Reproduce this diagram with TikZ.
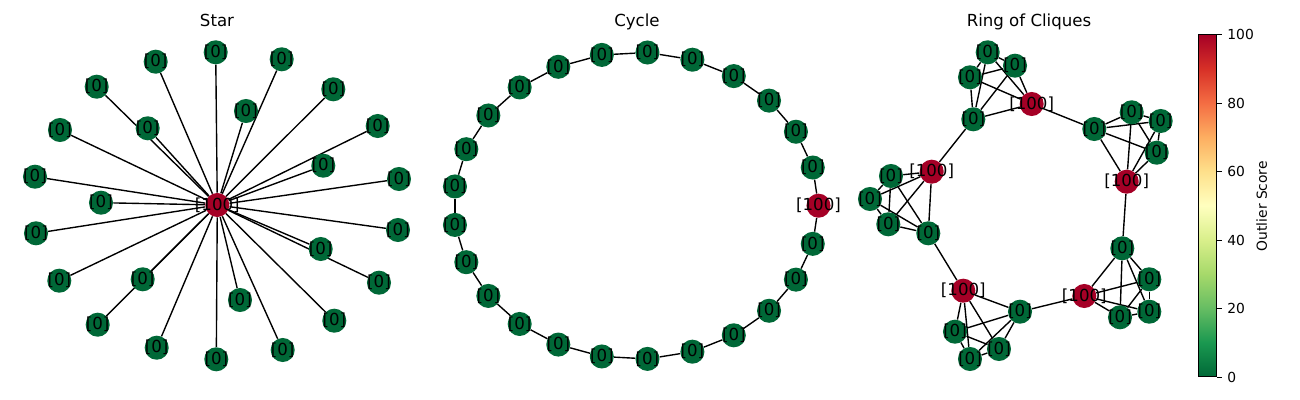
\documentclass[tikz,border=0pt]{standalone}
\usepackage{fontspec}
\setmainfont{DejaVu Sans}
\usetikzlibrary{positioning,backgrounds}
\usepackage{xcolor}

\definecolor{score0}{RGB}{0,104,55}
\definecolor{score100}{RGB}{165,0,38}
\pgfdeclareverticalshading{outlierbar}{100bp}{rgb(0bp)=(0,0.408,0.216); rgb(25bp)=(0,0.408,0.216); rgb(30bp)=(0.102,0.596,0.314); rgb(35bp)=(0.4,0.741,0.388); rgb(40bp)=(0.651,0.851,0.416); rgb(45bp)=(0.851,0.937,0.545); rgb(50bp)=(1,1,0.749); rgb(55bp)=(0.996,0.878,0.545); rgb(60bp)=(0.992,0.682,0.380); rgb(65bp)=(0.957,0.427,0.263); rgb(70bp)=(0.843,0.188,0.153); rgb(75bp)=(0.647,0,0.149); rgb(100bp)=(0.647,0,0.149)}

\begin{document}
\begin{tikzpicture}[
        x=0.72bp, y=-0.72bp,
        vert/.style={circle, fill=score#1, minimum size=17.32bp, inner sep=0pt,
            label={[lbl]center:{[#1]}}},
        lbl/.style={inner sep=0pt, text=black, font=\fontsize{12}{14}\selectfont},
        link/.style={draw=black, line width=1bp},
        title/.style={anchor=base, font=\fontsize{12}{14}\selectfont},
        tick/.style={font=\fontsize{10}{12}\selectfont}
    ]
        \useasboundingbox (0,0) rectangle (1300,400);

        % Panel 1: Star
        \node[title] (startitle) at (217,26.3) {Star};
        \node[vert=100] (s0) at (217.3,205) {};
        \foreach \i/\x/\y in {1/215.7/52.3, 2/155.7/61.7, 3/281.7/59.3, 4/96.7/86.7, 5/333.3/89.3,
            6/246/111, 7/147.7/128.3, 8/60/130, 9/377.7/126, 10/323.3/165.7, 11/35/176.7,
            12/399/179, 13/101/202.7, 14/36/233.3, 15/398/230, 16/320.7/249, 17/59.3/280.7,
            18/142.7/279.3, 19/379/282.7, 20/240/300, 21/97.7/324.7, 22/334.3/320.7,
            23/156.7/347.7, 24/282.7/350, 25/216.3/359.3}
            \node[vert=0] (s\i) at (\x,\y) {};
        \begin{scope}[on background layer]
            \foreach \i in {1,...,25}
                \draw[link] (s0) -- (s\i);
        \end{scope}

        % Panel 2: Cycle
        \node[title] (cycletitle) at (637,26.3) {Cycle};
        \begin{scope}[shift={(636,205.7)}]
            \node[vert=100] (c0) at (0:182.5 and 153.5) {};
            \foreach \i [evaluate=\i as \a using \i*14.4] in {1,...,24}
                \node[vert=0] (c\i) at (\a:182.5 and 153.5) {};
        \end{scope}
        \begin{scope}[on background layer]
            \foreach \i [evaluate=\i as \j using {int(mod(\i+1,25))}] in {0,...,24}
                \draw[link] (c\i) -- (c\j);
        \end{scope}

        % Panel 3: Ring of Cliques
        \node[title] (ringtitle) at (1029,26.3) {Ring of Cliques};
        \foreach \k/\n/\x/\y in {1/1/987.7/52.3, 1/2/1015/65.7, 1/3/970/77.3, 1/4/973.3/119.3,
            2/1/1131.7/112.3, 2/2/1160.7/121, 2/3/1094.3/129, 2/4/1156.7/152.7,
            3/1/891/176, 3/2/870/199, 3/3/888.3/224.3, 3/4/928.3/233.3,
            4/1/1122.3/248.3, 4/2/1149.3/279.3, 4/3/1149.3/311.7, 4/4/1120/317.3,
            5/1/1020/311.7, 5/2/955/331.7, 5/3/999/349, 5/4/970/359}
            \node[vert=0] (q\k n\n) at (\x,\y) {};
        \foreach \k/\x/\y in {1/1031.7/104, 2/1126.7/181.7, 3/931.7/171.7, 4/1084.3/296, 5/963.3/290.7}
            \node[vert=100] (q\k n5) at (\x,\y) {};
        \begin{scope}[on background layer]
            % each clique complete
            \foreach \k in {1,...,5}
                \foreach \i/\j in {1/2,1/3,1/4,1/5,2/3,2/4,2/5,3/4,3/5,4/5}
                    \draw[link] (q\k n\i) -- (q\k n\j);
            % bridges between cliques
            \draw[link] (q1n4) -- (q3n5);
            \draw[link] (q1n5) -- (q2n3);
            \draw[link] (q2n5) -- (q4n1);
            \draw[link] (q4n5) -- (q5n1);
            \draw[link] (q3n4) -- (q5n5);
        \end{scope}

        % Colorbar
        \node[draw, line width=0.8bp, shade, shading=outlierbar, minimum width=12.74bp, minimum height=246.5bp,
            inner sep=0pt, anchor=south west] (cbar) at (1198.3,377.3) {};
        \foreach \v in {0,20,...,100}
            \draw[line width=0.8bp] ([yshift=\v*2.465bp]cbar.south east) -- ++(4.9,0)
                node[tick, anchor=west, inner sep=0pt, xshift=3.5pt] {\v};
        \node[tick, rotate=90] (cbarlabel) at (1261.7,206.2) {Outlier Score};
    \end{tikzpicture}
\end{document}
